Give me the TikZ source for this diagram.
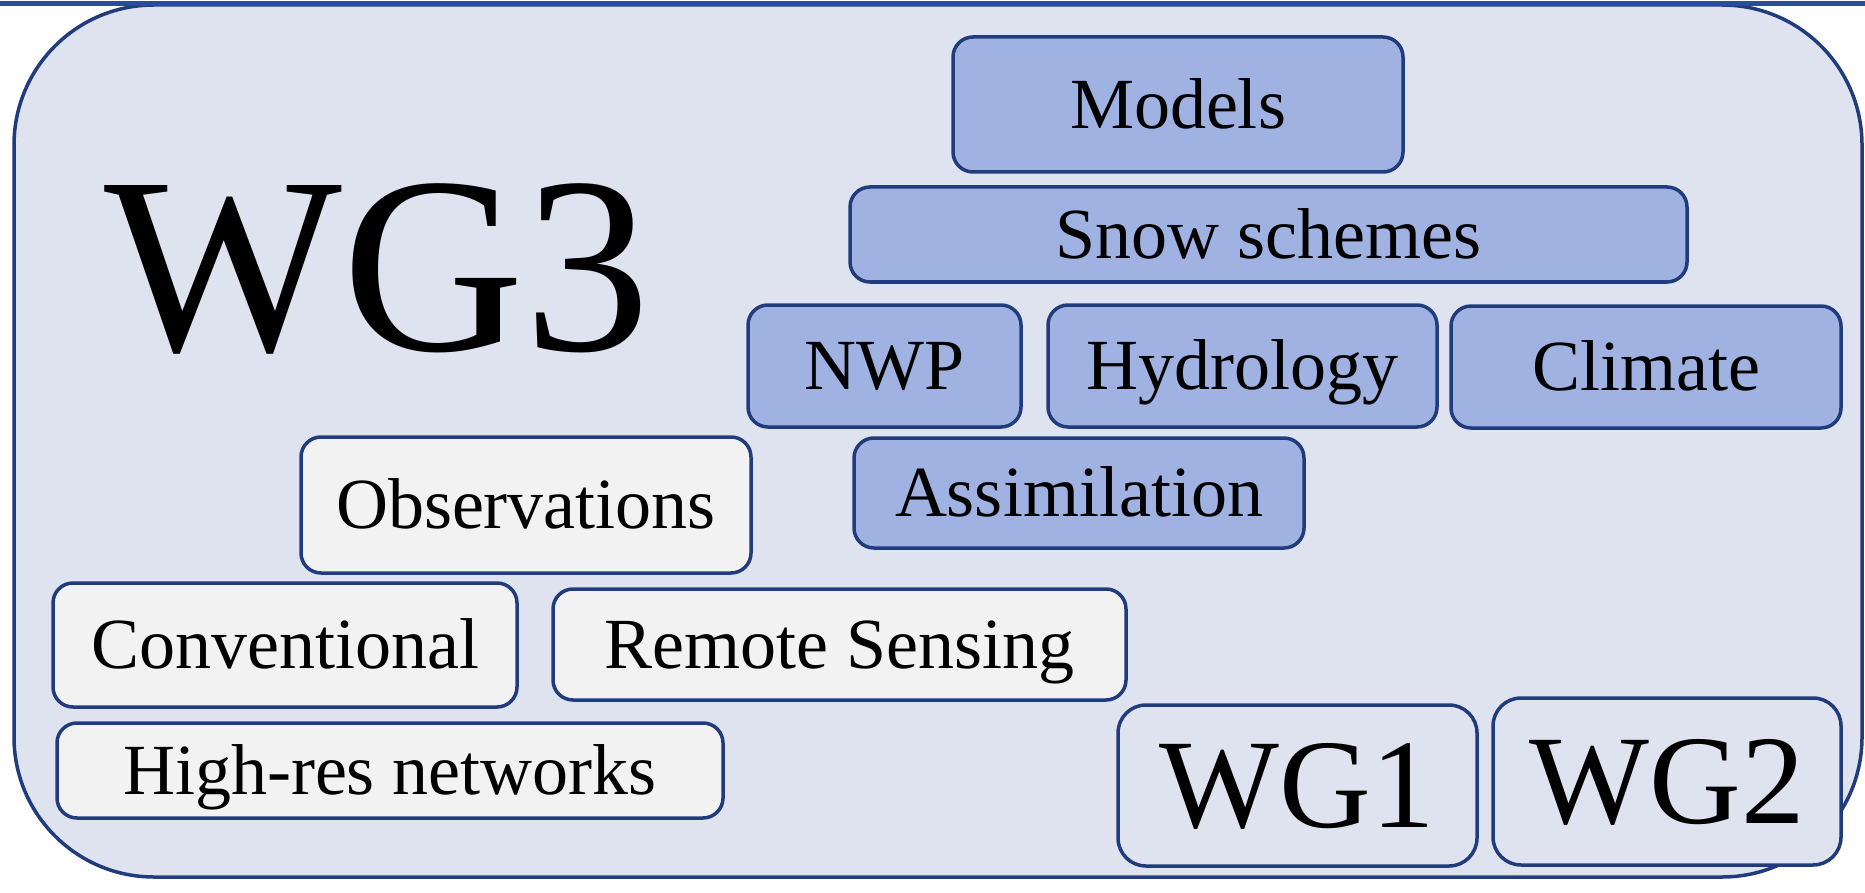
\documentclass[tikz,border=0pt]{standalone}
\usepackage{fontspec}
\setmainfont{Liberation Serif}
\definecolor{bgfill}{HTML}{DFE3F0}
\definecolor{bluefill}{HTML}{9FB2E1}
\definecolor{greyfill}{HTML}{F2F2F2}
\definecolor{navy}{HTML}{213C7C}
\definecolor{topline}{HTML}{2D4B9C}
\tikzset{
  anybox/.style={draw=navy, line width=3.5pt, rounded corners=20pt, inner sep=0pt,
    text depth=0pt, text height=47.7pt, font=\fontsize{72}{80}\selectfont},
  bluebox/.style={anybox, fill=bluefill},
  greybox/.style={anybox, fill=greyfill},
  wgbox/.style={draw=navy, line width=3.5pt, rounded corners=28pt, fill=bgfill, inner sep=0pt,
    text depth=0pt, text height=84pt, font=\fontsize{127}{140}\selectfont},
}
\begin{document}
\begin{tikzpicture}[x=1pt,y=-1pt]
\useasboundingbox (0,0) rectangle (1865,893);
\fill[white] (0,0) rectangle (1865,893);
% main container
\draw[draw=navy, fill=bgfill, line width=3.5pt, rounded corners=140pt] (14,5) rectangle (1862,877);
\coordinate (tl) at (0,3.5);
\coordinate (tr) at (1865,3.5);
\draw[topline, line width=4.5pt] (tl) -- (tr);
% title
\node[anchor=base west, inner sep=0pt, font=\fontsize{252}{260}\selectfont] (wg3) at (104,350) {WG3};
% model boxes
\node[bluebox, minimum width=450pt, minimum height=135pt] (models) at (1178,104.5) {Models};
\node[bluebox, minimum width=837pt, minimum height=95pt] (snow) at (1268.5,234.5) {Snow schemes};
\node[bluebox, minimum width=273pt, minimum height=122pt] (nwp) at (884.5,366) {NWP};
\node[bluebox, minimum width=389pt, minimum height=122pt] (hydro) at (1242.5,366) {Hydrology};
\node[bluebox, minimum width=390pt, minimum height=122pt] (climate) at (1646,367) {Climate};
\node[bluebox, minimum width=450pt, minimum height=110pt] (assim) at (1079,493) {Assimilation};
% observation boxes
\node[greybox, minimum width=450pt, minimum height=136pt] (obs) at (526,505) {Observations};
\node[greybox, minimum width=464pt, minimum height=124pt] (conv) at (285,645) {Conventional};
\node[greybox, minimum width=573pt, minimum height=111pt] (remote) at (839.5,644.5) {Remote Sensing};
\node[greybox, minimum width=666pt, minimum height=95pt] (highres) at (390,770.5) {High-res networks};
% other working groups
\node[wgbox, minimum width=359pt, minimum height=161pt] (wg1) at (1297.5,785.5) {WG1};
\node[wgbox, minimum width=348pt, minimum height=167pt] (wg2) at (1667,781.5) {WG2};
\end{tikzpicture}
\end{document}
